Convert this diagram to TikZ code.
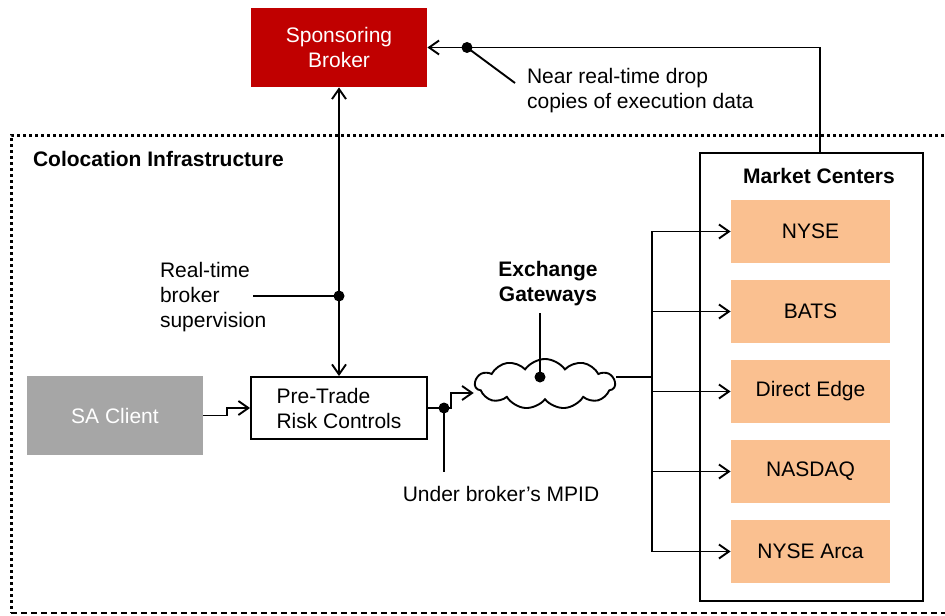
\documentclass[tikz,border=0pt]{standalone}
\usepackage{fontspec}
\setmainfont{Liberation Sans}
\usetikzlibrary{arrows.meta,shapes.symbols,calc}

\definecolor{brokerred}{HTML}{C00000}
\definecolor{clientgray}{HTML}{A6A6A6}
\definecolor{mktorange}{HTML}{FAC090}

\tikzset{
  txt/.style={font=\fontsize{10.5}{12.5}\selectfont},
  box/.style={txt, minimum width=88pt, inner sep=0pt, align=center},
  mkt/.style={txt, fill=mktorange, minimum width=79.5pt, minimum height=31.5pt},
  link/.style={line width=0.95pt},
  arr/.style={link, -{Straight Barb[length=5pt,width=7pt]}},
  arrboth/.style={link, {Straight Barb[length=5pt,width=7pt]}-{Straight Barb[length=5pt,width=7pt]}},
  dot/.style={circle, fill, inner sep=0pt, minimum size=5.5pt},
  hvh/.style={to path={-| ($(\tikztostart)!.5!(\tikztotarget)$) |- (\tikztotarget)}},
  colo/.style={line width=1.5pt, dash pattern=on 1.5pt off 1.5pt},
  colobottom/.style={line width=0.6pt, dash pattern=on 3pt off 2pt},
}

\begin{document}
\begin{tikzpicture}[x=0.5pt,y=-0.5pt]
\useasboundingbox (0,0) rectangle (945,615);

% colocation frame
\draw[colo] (980,135) -- (11,135) -- (11,613);
\draw[colobottom] (11,613) -- (980,613);
\node[txt, anchor=west] (colo) at (26,159) {\textbf{Colocation Infrastructure}};

\node[box, fill=brokerred, text=white, minimum height=39.5pt] (broker) at (339,47.5) {Sponsoring\\Broker};
\node[box, fill=clientgray, text=white, minimum height=39.5pt] (sa) at (115,415.5) {SA Client};
\node[box, draw, link, minimum height=31pt, align=left] (pre) at (339,408) {Pre-Trade\\Risk Controls};
\node[cloud, draw, link, fill=white, cloud puffs=11, cloud puff arc=110, cloud ignores aspect,
      minimum width=70pt, minimum height=25pt] (gw) at (545,384) {};
\node[txt, align=center] (gwlbl) at (548,284) {\textbf{Exchange}\\\textbf{Gateways}};

% market centers
\node[draw, link, minimum width=111.5pt, minimum height=224pt] (mc) at (811.5,377) {};
\node[txt] (mctitle) at (819,176) {\textbf{Market Centers}};
\node[mkt] (nyse) at (810.5,231.5) {NYSE};
\node[mkt] (bats) at (810.5,311.5) {BATS};
\node[mkt] (direct) at (810.5,391.5) {Direct Edge};
\node[mkt] (nasdaq) at (810.5,471.5) {NASDAQ};
\node[mkt] (arca) at (810.5,551.5) {NYSE Arca};

% labels
\node[txt, anchor=west, align=left] (suplbl) at (153,297) {Real-time\\broker\\supervision};
\node[txt, anchor=west, align=left] (droplbl) at (520,91) {Near real-time drop\\copies of execution data};
\node[txt] (mpid) at (501,494) {Under broker's MPID};

\coordinate (supdot) at (339,296);
\coordinate (supend) at (253,296);
\coordinate (dropdot) at (467,47.5);
\coordinate (dropend) at (515,83);
\coordinate (mpdot) at (444,408);
\coordinate (mpend) at (444,472);
\coordinate (gwdot) at (540,377);
\coordinate (split) at (652,391.5);

% connectors
\draw[arr] (sa.east) to[hvh] (pre.west);
\draw[arr] (pre.east) to[hvh] ([yshift=-4.5pt]gw.west);
\draw[arrboth] (broker.south) -- (pre.north);
\draw[link] (supend) -- (supdot);
\draw[link] (mpdot) -- (mpend);
\draw[link] (gwdot) -- (gwlbl.south -| gwdot);
\draw[link] ([yshift=3.5pt]gw.east) -| (split);
\draw[arr] (split) -- (direct.west);
\foreach \m in {nyse,bats,nasdaq,arca}
  \draw[arr] (split) |- (\m.west);
\draw[arr] ([xshift=4.25pt]mc.north) |- (broker.east);
\draw[link] (dropdot) -- (dropend);

\foreach \d in {supdot,dropdot,mpdot,gwdot}
  \node[dot] at (\d) {};
\end{tikzpicture}
\end{document}
